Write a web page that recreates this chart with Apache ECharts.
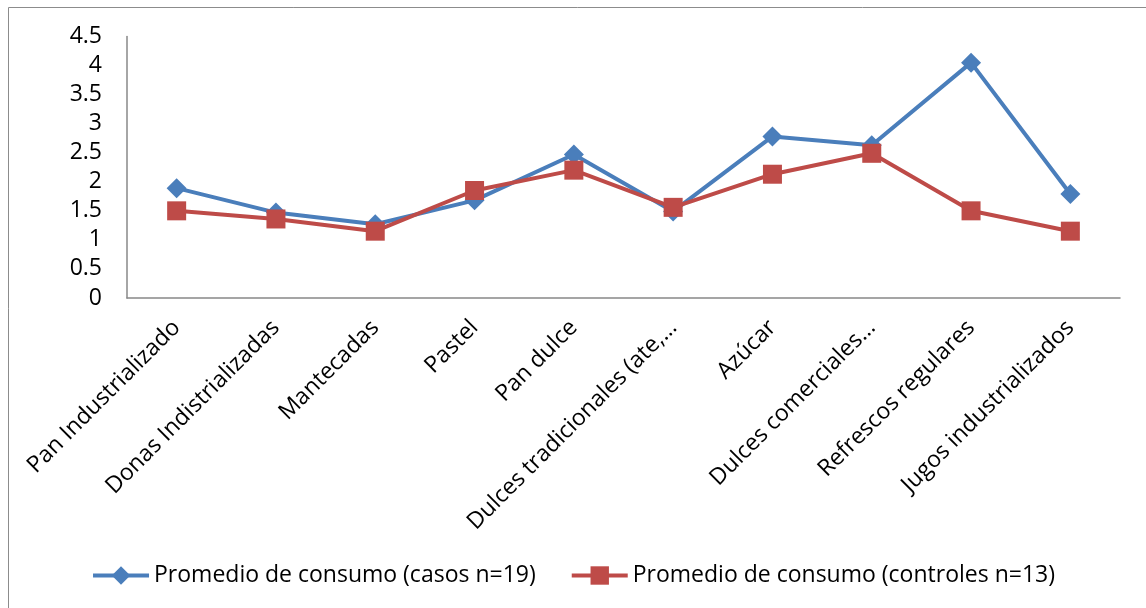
<!DOCTYPE html>
<html><head><meta charset="utf-8">
<script src="https://cdn.jsdelivr.net/npm/echarts@6/dist/echarts.min.js"></script>
<style>html,body{margin:0;padding:0;background:#fff}#c{width:1146px;height:608px}</style>
</head><body><div id="c"></div>
<script>
const categories = ["Pan Industrializado","Donas Indistrializadas","Mantecadas","Pastel","Pan dulce","Dulces tradicionales (ate,…","Azúcar","Dulces comerciales…","Refrescos regulares","Jugos industrializados"];
const casos = [1.89,1.47,1.27,1.68,2.47,1.49,2.78,2.63,4.05,1.79];
const controles = [1.5,1.36,1.15,1.85,2.2,1.56,2.13,2.49,1.5,1.15];
const seriesNames = ["Promedio de consumo (casos n=19)","Promedio de consumo (controles n=13)"];
const FONT = "Open Sans";
const chart = echarts.init(document.getElementById('c'), null, {renderer:'canvas'});
chart.setOption({
  animation:false,
  backgroundColor:'#fff',
  graphic:[{type:'rect',shape:{x:8.5,y:7.5,width:1160,height:620},style:{fill:'none',stroke:'#8c8c8c',lineWidth:1},z:-1}],
  grid:{left:127,right:26,top:36.5,bottom:310,containLabel:false},
  xAxis:{type:'category',data:categories,boundaryGap:true,
    axisLine:{lineStyle:{color:'#888',width:1.5}},axisTick:{show:false},
    axisLabel:{rotate:45,interval:0,margin:26,fontFamily:FONT,fontSize:23,color:'#000'}},
  yAxis:{type:'value',min:0,max:4.5,interval:0.5,
    axisLine:{show:true,lineStyle:{color:'#888',width:1.5}},axisTick:{show:false},splitLine:{show:false},
    axisLabel:{margin:25,fontFamily:FONT,fontSize:23,color:'#000'}},
  legend:{bottom:16,left:'center',itemWidth:56,itemHeight:23,itemGap:34,
    lineStyle:{width:4},
    textStyle:{fontFamily:FONT,fontSize:23,color:'#000'},data:seriesNames},
  series:[
    {name:seriesNames[0],type:'line',data:casos,symbol:'diamond',symbolSize:20,
     lineStyle:{color:'#4A7EBB',width:4},itemStyle:{color:'#4A7EBB'},z:2},
    {name:seriesNames[1],type:'line',data:controles,symbol:'rect',symbolSize:19,
     lineStyle:{color:'#BE4B48',width:4},itemStyle:{color:'#BE4B48'},z:3}
  ]
});
</script></body></html>
